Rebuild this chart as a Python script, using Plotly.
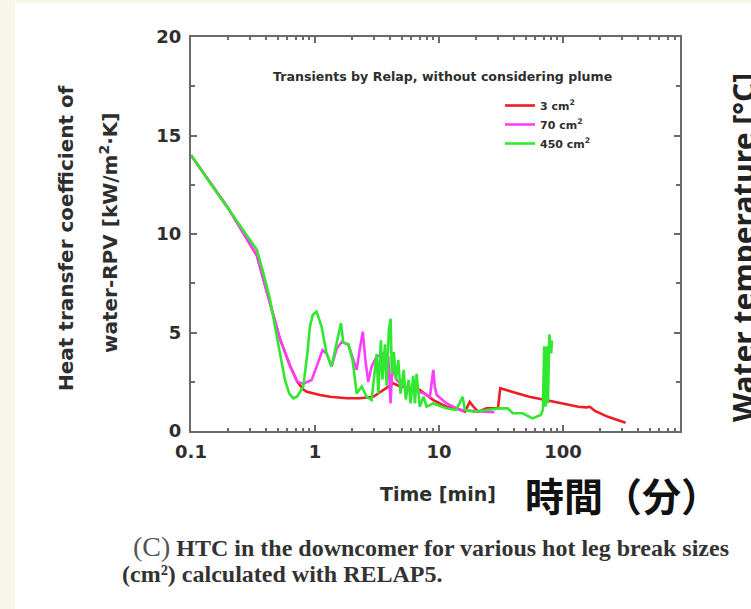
import plotly.graph_objects as go

# Downcomer heat transfer coefficient vs. time, RELAP5 transients
t_3cm = [0.1, 0.15, 0.2, 0.25, 0.3, 0.34, 0.38, 0.43, 0.52, 0.63, 0.72, 0.805, 0.86, 1.1, 1.32, 1.8, 2.29, 2.95,
         3.55, 4.28, 4.85, 6.2, 7.0, 9.0, 11.5, 13.8, 16.2, 17.7, 19.0, 20.7, 24.2, 29.9, 31.2, 39.4, 53.4, 72.3,
         98, 133, 155, 165, 181, 231, 320]
h_3cm = [14.0, 12.4, 11.3, 10.3, 9.5, 8.9, 7.8, 6.6, 4.7, 3.3, 2.5, 2.1, 1.99, 1.83, 1.74, 1.66, 1.66, 1.74,
         2.08, 2.42, 2.26, 2.17, 2.08, 1.57, 1.23, 1.15, 0.98, 1.48, 1.23, 0.98, 1.15, 1.15, 2.17, 1.99, 1.74, 1.57,
         1.4, 1.23, 1.2, 1.23, 1.02, 0.72, 0.42]

t_70cm = [0.1, 0.15, 0.2, 0.25, 0.3, 0.34, 0.38, 0.43, 0.52, 0.63, 0.72, 0.805, 0.94, 1.03, 1.15, 1.24, 1.36, 1.5,
          1.65, 1.86, 2.17, 2.29, 2.43, 2.55, 2.69, 2.86, 3.14, 3.55, 3.9, 4.07, 4.2, 4.55, 5.2, 6.2, 7.5, 8.45,
          9.0, 9.25, 9.6, 11.5, 14.8, 20, 28]
h_70cm = [14.0, 12.4, 11.3, 10.3, 9.5, 8.9, 7.8, 6.6, 4.7, 3.3, 2.5, 2.4, 2.59, 3.27, 4.1, 3.94, 3.27, 4.2,
          4.53, 4.37, 3.1, 4.1, 5.04, 3.6, 2.5, 3.27, 3.77, 3.94, 3.77, 1.4, 3.27, 2.59, 2.26, 2.08, 1.91, 1.74,
          3.1, 2.26, 1.83, 1.4, 1.07, 1.0, 0.95]

t_450cm = [0.1, 0.15, 0.2, 0.25, 0.3, 0.34, 0.38, 0.43, 0.52, 0.573, 0.62, 0.668, 0.72, 0.805, 0.87, 0.91, 0.96,
           1.03, 1.13, 1.24, 1.36, 1.5, 1.62, 1.69, 1.86, 2.01, 2.17, 2.38, 2.61, 2.86, 3.14, 3.24, 3.4, 3.5,
           3.67, 3.78, 3.94, 4.07, 4.17, 4.33, 4.5, 4.7, 4.9, 5.2, 5.4, 5.7, 5.9, 6.2, 6.4, 6.6, 7.0, 7.5, 7.95,
           9.0, 11.5, 13.8, 15.5, 16.2, 19.0, 24.2, 30.8, 35.8, 39.4, 47.3, 56.7, 66.2, 68.9, 70.6, 72.3, 74.3,
           75.6, 77.7, 80.4, 81.5]
h_450cm = [14.0, 12.4, 11.3, 10.4, 9.7, 9.2, 8.1, 6.8, 4.0, 2.59, 1.9, 1.66, 1.75, 2.26, 4.0, 5.3, 5.9,
           6.06, 5.3, 3.94, 3.27, 4.6, 5.47, 4.5, 4.4, 3.6, 1.9, 2.26, 1.74, 1.57, 3.9, 1.9, 4.6, 2.6,
           4.4, 2.3, 5.1, 5.7, 2.9, 4.0, 2.6, 3.6, 1.9, 3.1, 1.6, 2.6, 1.4, 2.8, 1.4, 2.9, 1.23, 1.74, 1.23,
           1.4, 1.15, 1.07, 1.74, 1.07, 0.98, 1.07, 1.15, 1.15, 0.9, 0.9, 0.64, 0.81, 1.07, 4.3, 1.23, 4.3,
           1.4, 4.9, 3.94, 4.6]

series_names = ["3 cm<sup>2</sup>", "70 cm<sup>2</sup>", "450 cm<sup>2</sup>"]
series_colors = ["#ee1c25", "#ff3cff", "#2fe82f"]

x_ticks = [0.1, 1, 10, 100]
x_ticklabels = ["0.1", "1", "10", "100"]
y_ticks = [0, 5, 10, 15, 20]

W, H = 751, 609
L, R, T, B = 191, 680, 37, 431  # plot frame in pixels


def px(x):
    return (x - L) / (R - L)


def py(y):
    return (B - y) / (B - T)


SANS = "DejaVu Sans"
INK = "#2e2e2e"

fig = go.Figure()
for t, h, name, color in zip([t_3cm, t_70cm, t_450cm], [h_3cm, h_70cm, h_450cm], series_names, series_colors):
    fig.add_trace(go.Scatter(x=t, y=h, mode="lines", name=name,
                             line=dict(color=color, width=2.6)))

minor_x = [k * 10.0 ** e for e in range(-1, 3) for k in range(2, 10)]

axis_common = dict(showgrid=False, zeroline=False, showline=True, linecolor="#6a6a6a", linewidth=2,
                   ticks="inside", ticklen=6, tickwidth=1.5, tickcolor="#6a6a6a", mirror="ticks",
                   tickfont=dict(family=SANS, size=18, color=INK, weight="bold"))

fig.update_xaxes(type="log", range=[-1, 2.944], tickvals=x_ticks, ticktext=x_ticklabels,
                 minor=dict(tickvals=minor_x, ticks="inside", ticklen=3, tickcolor="#6a6a6a"),
                 ticklabelstandoff=3, **axis_common)
fig.update_yaxes(range=[0, 20], tickvals=y_ticks,
                 minor=dict(dtick=2.5, ticks="inside", ticklen=4, tickcolor="#6a6a6a"),
                 ticklabelstandoff=4, **axis_common)

fig.update_layout(
    width=W, height=H,
    margin=dict(l=L, r=W - R, t=T, b=H - B, pad=0),
    paper_bgcolor="white", plot_bgcolor="white",
    showlegend=True,
    legend=dict(x=px(500), y=py(91), xanchor="left", yanchor="top", bgcolor="rgba(0,0,0,0)",
                font=dict(family=SANS, size=11, color=INK, weight="bold"), itemwidth=30,
                tracegroupgap=0),
)

# cream page margins
fig.add_shape(type="rect", xref="paper", yref="paper", x0=px(0), x1=px(W), y0=py(0), y1=py(3),
              fillcolor="#f6f6ea", line_width=0, layer="below")
fig.add_shape(type="rect", xref="paper", yref="paper", x0=px(0), x1=px(15), y0=py(H), y1=py(0),
              fillcolor="#f6f6ea", line_width=0, layer="below")

ann = []
ann.append(dict(text="Transients by Relap, without considering plume", x=px(442), y=py(77),
                font=dict(family=SANS, size=12.6, color=INK, weight="bold")))
ann.append(dict(text="Heat transfer coefficient of", x=px(66), y=py(238), textangle=-90,
                font=dict(family=SANS, size=20, color=INK, weight="bold")))
ann.append(dict(text="water-RPV [kW/m<sup>2</sup>·K]", x=px(109), y=py(233), textangle=-90,
                font=dict(family=SANS, size=20, color=INK, weight="bold")))
ann.append(dict(text="Time [min]", x=px(438), y=py(494),
                font=dict(family=SANS, size=19, color=INK, weight="bold")))
ann.append(dict(text="時間（分）", x=px(622), y=py(494),
                font=dict(family="Noto Sans CJK JP", size=39, color="#111111", weight="bold")))
ann.append(dict(text="Water temperature [°C]", x=px(743), y=py(248), textangle=-90,
                font=dict(family="Noto Sans", size=30, color="#222222", weight="bold")))
ann.append(dict(text="<span style='font-size:28px;font-weight:normal;color:#555'>(C)</span>"
                     " HTC in the downcomer for various hot leg break sizes",
                x=px(131), y=py(546), xanchor="left",
                font=dict(family="Liberation Serif", size=24, color="#333333", weight="bold")))
ann.append(dict(text="(cm²) calculated with RELAP5.", x=px(120), y=py(574), xanchor="left",
                font=dict(family="Liberation Serif", size=24, color="#333333", weight="bold")))

for a in ann:
    a.setdefault("xanchor", "center")
    fig.add_annotation(xref="paper", yref="paper", yanchor="middle", showarrow=False, **a)

fig.write_html("out.html")
